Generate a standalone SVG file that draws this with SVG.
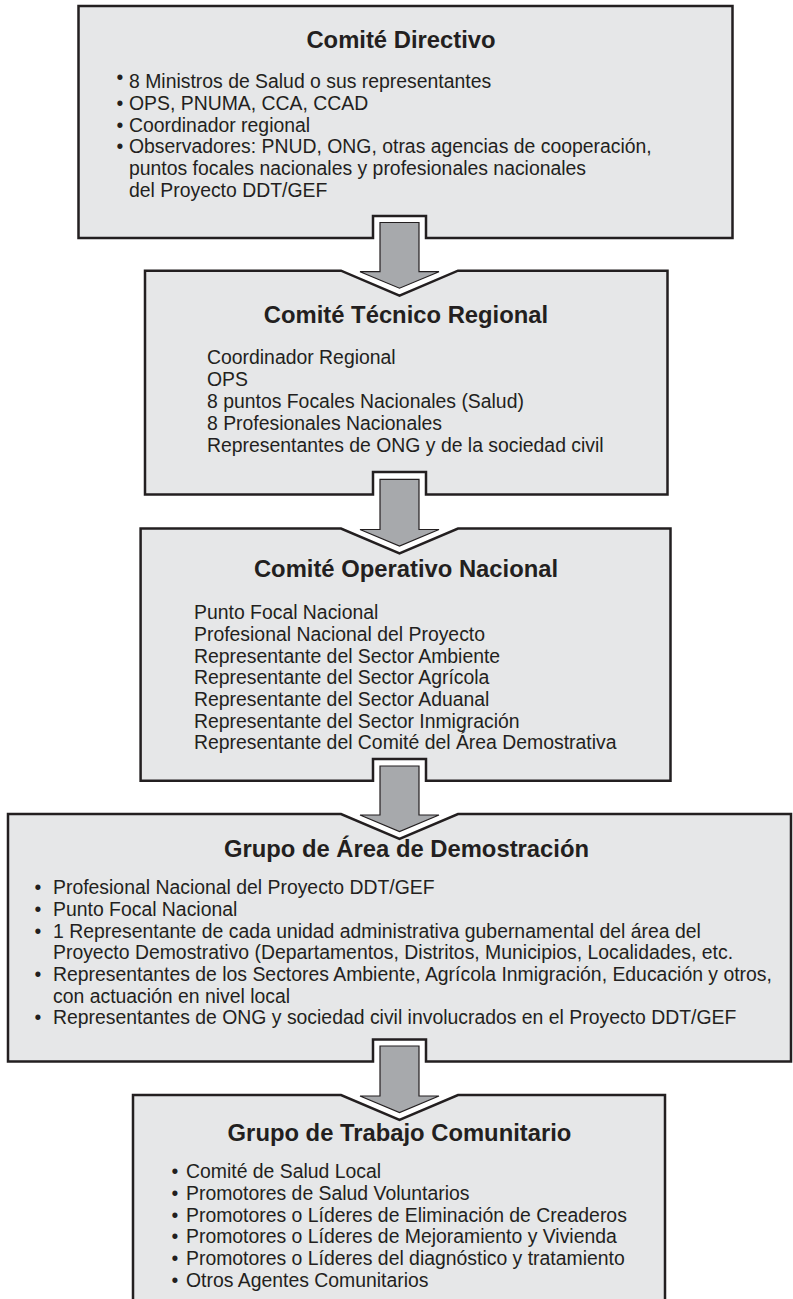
<svg xmlns="http://www.w3.org/2000/svg" width="793" height="1299" viewBox="0 0 793 1299">
<style>
.box{fill:#e6e7e8;stroke:#231f20;stroke-width:2.5;stroke-linejoin:miter}
.arrow{fill:#a7a9ac;stroke:#231f20;stroke-width:1.2;stroke-linejoin:miter}
.title{font-family:"Liberation Sans",Arial,Helvetica,sans-serif;font-weight:bold;font-size:23.8px;fill:#231f20;text-anchor:middle}
.body{font-family:"Liberation Sans",Arial,Helvetica,sans-serif;font-size:19.4px;fill:#231f20}
</style>
<rect width="793" height="1299" fill="#ffffff"/>
<g id="comite-directivo">
<path class="box" d="M78.5,6 H732.5 V238 H426 V216 H373 V238 H78.5 Z"/>
<text class="title" x="401" y="48.3">Comité Directivo</text>
<text class="body"><tspan x="116.5" y="84">•</tspan><tspan x="129" y="87.5">8 Ministros de Salud o sus representantes</tspan></text>
<text class="body"><tspan x="116.5" y="110">•</tspan><tspan x="129" y="110">OPS, PNUMA, CCA, CCAD</tspan></text>
<text class="body"><tspan x="116.5" y="131.7">•</tspan><tspan x="129" y="131.7">Coordinador regional</tspan></text>
<text class="body"><tspan x="116.5" y="153.3">•</tspan><tspan x="129" y="153.3">Observadores: PNUD, ONG, otras agencias de cooperación,</tspan></text>
<text class="body" x="129" y="175">puntos focales nacionales y profesionales nacionales</text>
<text class="body" x="129" y="196.7">del Proyecto DDT/GEF</text>
</g>
<g id="comite-tecnico-regional">
<path class="box" d="M145,270.7 H341 L399.5,295.7 L458,270.7 H667.5 V494.5 H426 V472 H373 V494.5 H145 Z"/>
<text class="title" x="406" y="323.3">Comité Técnico Regional</text>
<text class="body" x="207" y="364">Coordinador Regional</text>
<text class="body" x="207" y="386">OPS</text>
<text class="body" x="207" y="408">8 puntos Focales Nacionales (Salud)</text>
<text class="body" x="207" y="430">8 Profesionales Nacionales</text>
<text class="body" x="207" y="452">Representantes de ONG y de la sociedad civil</text>
</g>
<g id="comite-operativo-nacional">
<path class="box" d="M140.6,528.5 H341 L399.5,553.5 L458,528.5 H670.5 V780.7 H426 V759 H373 V780.7 H140.6 Z"/>
<text class="title" x="406" y="577.3">Comité Operativo Nacional</text>
<text class="body" x="194" y="619.3">Punto Focal Nacional</text>
<text class="body" x="194" y="641">Profesional Nacional del Proyecto</text>
<text class="body" x="194" y="662.7">Representante del Sector Ambiente</text>
<text class="body" x="194" y="684.3">Representante del Sector Agrícola</text>
<text class="body" x="194" y="706">Representante del Sector Aduanal</text>
<text class="body" x="194" y="727.7">Representante del Sector Inmigración</text>
<text class="body" x="194" y="749.3">Representante del Comité del Área Demostrativa</text>
</g>
<g id="grupo-area-demostracion">
<path class="box" d="M8,814 H341 L399.5,839 L458,814 H791 V1061.5 H426 V1039.5 H373 V1061.5 H8 Z"/>
<text class="title" x="406.5" y="856.7">Grupo de Área de Demostración</text>
<text class="body"><tspan x="34.6" y="894">•</tspan><tspan x="53" y="894">Profesional Nacional del Proyecto DDT/GEF</tspan></text>
<text class="body"><tspan x="34.6" y="916">•</tspan><tspan x="53" y="916">Punto Focal Nacional</tspan></text>
<text class="body"><tspan x="34.6" y="937.5">•</tspan><tspan x="53" y="937.5">1 Representante de cada unidad administrativa gubernamental del área del</tspan></text>
<text class="body" x="53" y="959">Proyecto Demostrativo (Departamentos, Distritos, Municipios, Localidades, etc.</text>
<text class="body"><tspan x="34.6" y="981">•</tspan><tspan x="53" y="981">Representantes de los Sectores Ambiente, Agrícola Inmigración, Educación y otros,</tspan></text>
<text class="body" x="53" y="1002.5">con actuación en nivel local</text>
<text class="body"><tspan x="34.6" y="1024">•</tspan><tspan x="53" y="1024">Representantes de ONG y sociedad civil involucrados en el Proyecto DDT/GEF</tspan></text>
</g>
<g id="grupo-trabajo-comunitario">
<path class="box" d="M133,1095 H341 L399.5,1120 L458,1095 H665 V1312 H133 Z"/>
<text class="title" x="399.5" y="1141">Grupo de Trabajo Comunitario</text>
<text class="body"><tspan x="171.6" y="1178.3">•</tspan><tspan x="186" y="1178.3">Comité de Salud Local</tspan></text>
<text class="body"><tspan x="171.6" y="1200">•</tspan><tspan x="186" y="1200">Promotores de Salud Voluntarios</tspan></text>
<text class="body"><tspan x="171.6" y="1221.7">•</tspan><tspan x="186" y="1221.7">Promotores o Líderes de Eliminación de Creaderos</tspan></text>
<text class="body"><tspan x="171.6" y="1243.3">•</tspan><tspan x="186" y="1243.3">Promotores o Líderes de Mejoramiento y Vivienda</tspan></text>
<text class="body"><tspan x="171.6" y="1265">•</tspan><tspan x="186" y="1265">Promotores o Líderes del diagnóstico y tratamiento</tspan></text>
<text class="body"><tspan x="171.6" y="1286.7">•</tspan><tspan x="186" y="1286.7">Otros Agentes Comunitarios</tspan></text>
</g>
<g id="connectors">
<path class="arrow" d="M380,222.5 H419 V271.7 H439 L399.5,288.2 L360,271.7 H380 Z"/>
<path class="arrow" d="M380,479.3 H419 V529.5 H439 L399.5,546 L360,529.5 H380 Z"/>
<path class="arrow" d="M380,766 H419 V815 H439 L399.5,831.5 L360,815 H380 Z"/>
<path class="arrow" d="M380,1046 H419 V1096 H439 L399.5,1112.5 L360,1096 H380 Z"/>
</g>
</svg>
